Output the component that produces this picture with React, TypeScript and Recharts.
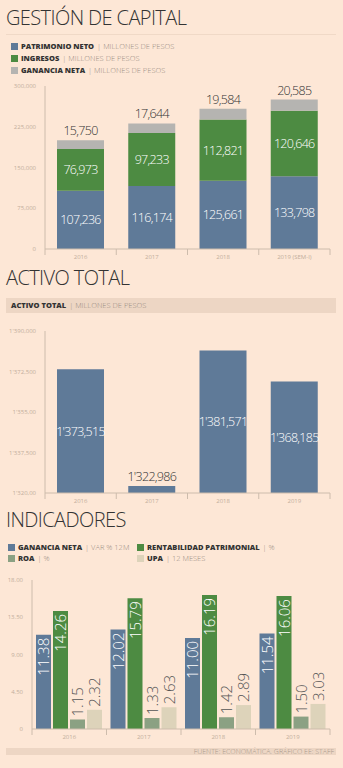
import React from 'react';
import { BarChart, Bar, XAxis, YAxis, LabelList } from 'recharts';

const years1 = ['2016', '2017', '2018', '2019 (SEM-I)'];
const patrimonio = [107236, 116174, 125661, 133798];
const ingresos = [76973, 97233, 112821, 120646];
const ganancia = [15750, 17644, 19584, 20585];
const ticks1 = [0, 75000, 150000, 225000, 300000];
const tickLabels1 = ['0', '75,000', '150,000', '225,000', '300,000'];

const years2 = ['2016', '2017', '2018', '2019'];
const activo = [1373515, 1322986, 1381571, 1368185];
const activoLabels = ["1'373,515", "1'322,986", "1'381,571", "1'368,185"];
const ticks2 = [1320000, 1337500, 1355000, 1372500, 1390000];
const tickLabels2 = ["1'320,00", "1'337,500", "1'355,00", "1'372,500", "1'390,000"];

const years3 = ['2016', '2017', '2018', '2019'];
const ganVar = [11.38, 12.02, 11.0, 11.54];
const rentab = [14.26, 15.79, 16.19, 16.06];
const roa = [1.15, 1.33, 1.42, 1.5];
const upa = [2.32, 2.63, 2.89, 3.03];
const ticks3 = [0, 4.5, 9, 13.5, 18];
const tickLabels3 = ['0', '4.50', '9.00', '13.50', '18.00'];

const BG = '#fde7d6';
const BLUE = '#5f7a98';
const GREEN = '#4d8b42';
const GRAY = '#b5b4b1';
const ROA = '#8ba183';
const UPA = '#ddd3ba';
const AXIS = '#cdbcac';
const TICK = '#c2ae9c';
const BAND = '#edd6c4';
const NUMFONT = "'Open Sans', sans-serif";

const data1 = years1.map((y, i) => ({ year: y, p: patrimonio[i], ing: ingresos[i], g: ganancia[i] }));
const data2 = years2.map((y, i) => ({ year: y, v: activo[i], label: activoLabels[i] }));
const data3 = years3.map((y, i) => ({ year: y, a: ganVar[i], b: rentab[i], c: roa[i], d: upa[i] }));

const fmt = (v: number) => v.toLocaleString('en-US');

const makeXTick = (half: number, count: number) => (props: any) => {
  const { x, y, payload, index } = props;
  return (
    <g>
      <line x1={x - half} x2={x - half} y1={y} y2={y + 6} stroke={AXIS} strokeWidth={1} />
      {index === count - 1 && (
        <line x1={x + half} x2={x + half} y1={y} y2={y + 6} stroke={AXIS} strokeWidth={1} />
      )}
      <text x={x} y={y + 10} textAnchor="middle" fontSize={6} fill={TICK} fontFamily={NUMFONT}>
        {payload.value}
      </text>
    </g>
  );
};

const ActivoLabel = (props: any) => {
  const { x, y, width, height, index } = props;
  const text = activoLabels[index];
  if (height < 25) {
    return (
      <text x={x + width / 2} y={y - 5} textAnchor="middle" fontSize={12.5} fill="#333" fontFamily={NUMFONT} fontWeight={300} letterSpacing={-0.7}>
        {text}
      </text>
    );
  }
  return (
    <text x={x + width / 2} y={y + height / 2} textAnchor="middle" dominantBaseline="central" fontSize={12.5} fill="#fff" fontFamily={NUMFONT} fontWeight={300} letterSpacing={-0.7}>
      {text}
    </text>
  );
};

const InsideRot = (props: any) => {
  const { x, y, width, value } = props;
  const cx = x + width / 2;
  const ty = y + 3;
  return (
    <text x={cx} y={ty} transform={`rotate(-90 ${cx} ${ty})`} textAnchor="end" dominantBaseline="central" fontSize={15} fill="#fff" fontFamily={NUMFONT} fontWeight={300}>
      {value.toFixed(2)}
    </text>
  );
};

const AboveRot = (props: any) => {
  const { x, y, width, value } = props;
  const cx = x + width / 2;
  const ty = y - 3;
  return (
    <text x={cx} y={ty} transform={`rotate(-90 ${cx} ${ty})`} textAnchor="start" dominantBaseline="central" fontSize={15} fill="#555" fontFamily={NUMFONT} fontWeight={300}>
      {value.toFixed(2)}
    </text>
  );
};

const Title = ({ top, children }: any) => (
  <div style={{ position: 'absolute', left: 6, top, fontFamily: NUMFONT, fontWeight: 300, fontSize: 20, color: '#333', lineHeight: '24px', whiteSpace: 'nowrap', letterSpacing: -0.6 }}>
    {children}
  </div>
);

const LegendItem = ({ left, top, color, bold, light }: any) => (
  <div style={{ position: 'absolute', left, top, display: 'flex', alignItems: 'center', whiteSpace: 'nowrap', fontFamily: NUMFONT, fontSize: 7.5, lineHeight: '9px' }}>
    <span style={{ display: 'inline-block', width: 7, height: 7, background: color, marginRight: 3 }} />
    <span style={{ fontWeight: 800, color: '#333' }}>{bold}</span>
    <span style={{ color: '#998c82', fontWeight: 300, marginLeft: 3 }}>| {light}</span>
  </div>
);

export default function App() {
  return (
    <div style={{ position: 'absolute', left: 0, top: 0, width: 343, height: 768, background: BG, overflow: 'hidden' }}>
      <Title top={6}>GESTIÓN DE CAPITAL</Title>
      <div style={{ position: 'absolute', left: 6, top: 34, width: 330, height: 1, background: '#f0d9c7' }} />
      <LegendItem left={11} top={42} color={BLUE} bold="PATRIMONIO NETO" light="MILLONES DE PESOS" />
      <LegendItem left={11} top={54} color={GREEN} bold="INGRESOS" light="MILLONES DE PESOS" />
      <LegendItem left={11} top={66} color={GRAY} bold="GANANCIA NETA" light="MILLONES DE PESOS" />

      <div style={{ position: 'absolute', left: 0, top: 80 }}>
        <BarChart width={343} height={190} data={data1} margin={{ top: 6, right: 13, left: 0, bottom: 0 }} barSize={47}>
          <XAxis dataKey="year" height={21} axisLine={{ stroke: AXIS }} tickLine={false} tickSize={0} tickMargin={0} interval={0} tick={makeXTick(285 / 8, 4)} />
          <YAxis width={45} domain={[0, 300000]} ticks={ticks1} axisLine={{ stroke: AXIS }} tickLine={false} tickSize={0} tickMargin={9} tickFormatter={(v: number) => tickLabels1[ticks1.indexOf(v)]} tick={{ fontSize: 6, fill: TICK, fontFamily: NUMFONT }} />
          <Bar dataKey="p" stackId="s" fill={BLUE} isAnimationActive={false}>
            <LabelList dataKey="p" position="center" formatter={fmt} fill="#fff" fontSize={12.5} fontFamily={NUMFONT} fontWeight={300} letterSpacing={-0.7} />
          </Bar>
          <Bar dataKey="ing" stackId="s" fill={GREEN} isAnimationActive={false}>
            <LabelList dataKey="ing" position="center" formatter={fmt} fill="#fff" fontSize={12.5} fontFamily={NUMFONT} fontWeight={300} letterSpacing={-0.7} />
          </Bar>
          <Bar dataKey="g" stackId="s" fill={GRAY} isAnimationActive={false}>
            <LabelList dataKey="g" position="top" offset={5} formatter={fmt} fill="#333" fontSize={12.5} fontFamily={NUMFONT} fontWeight={300} letterSpacing={-0.7} />
          </Bar>
        </BarChart>
      </div>

      <Title top={266}>ACTIVO TOTAL</Title>
      <div style={{ position: 'absolute', left: 6, top: 298, width: 330, height: 15, background: BAND }} />
      <div style={{ position: 'absolute', left: 11, top: 301, whiteSpace: 'nowrap', fontFamily: NUMFONT, fontSize: 7.5, lineHeight: '9px' }}>
        <span style={{ fontWeight: 800, color: '#333' }}>ACTIVO TOTAL</span>
        <span style={{ color: '#998c82', fontWeight: 300, marginLeft: 3 }}>| MILLONES DE PESOS</span>
      </div>

      <div style={{ position: 'absolute', left: 0, top: 325 }}>
        <BarChart width={343} height={189} data={data2} margin={{ top: 6, right: 13, left: 0, bottom: 0 }} barSize={47}>
          <XAxis dataKey="year" height={21} axisLine={{ stroke: AXIS }} tickLine={false} tickSize={0} tickMargin={0} interval={0} tick={makeXTick(285 / 8, 4)} />
          <YAxis width={45} domain={[1320000, 1390000]} allowDataOverflow ticks={ticks2} axisLine={{ stroke: AXIS }} tickLine={false} tickSize={0} tickMargin={9} tickFormatter={(v: number) => tickLabels2[ticks2.indexOf(v)]} tick={{ fontSize: 6, fill: TICK, fontFamily: NUMFONT }} />
          <Bar dataKey="v" fill={BLUE} isAnimationActive={false}>
            <LabelList dataKey="v" content={ActivoLabel} />
          </Bar>
        </BarChart>
      </div>

      <Title top={508}>INDICADORES</Title>
      <LegendItem left={8} top={543} color={BLUE} bold="GANANCIA NETA" light="VAR % 12M" />
      <LegendItem left={8} top={554} color={ROA} bold="ROA" light="%" />
      <LegendItem left={137} top={543} color={GREEN} bold="RENTABILIDAD PATRIMONIAL" light="%" />
      <LegendItem left={137} top={554} color={UPA} bold="UPA" light="12 MESES" />

      <div style={{ position: 'absolute', left: 0, top: 574 }}>
        <BarChart width={343} height={171} data={data3} margin={{ top: 6, right: 13, left: 0, bottom: 0 }} barSize={15} barGap={2}>
          <XAxis dataKey="year" height={16} axisLine={{ stroke: AXIS }} tickLine={false} tickSize={0} tickMargin={0} interval={0} tick={makeXTick(298 / 8, 4)} />
          <YAxis width={32} domain={[0, 18]} ticks={ticks3} axisLine={{ stroke: AXIS }} tickLine={false} tickSize={0} tickMargin={9} tickFormatter={(v: number) => tickLabels3[ticks3.indexOf(v)]} tick={{ fontSize: 6, fill: TICK, fontFamily: NUMFONT }} />
          <Bar dataKey="a" fill={BLUE} isAnimationActive={false}>
            <LabelList dataKey="a" content={InsideRot} />
          </Bar>
          <Bar dataKey="b" fill={GREEN} isAnimationActive={false}>
            <LabelList dataKey="b" content={InsideRot} />
          </Bar>
          <Bar dataKey="c" fill={ROA} isAnimationActive={false}>
            <LabelList dataKey="c" content={AboveRot} />
          </Bar>
          <Bar dataKey="d" fill={UPA} isAnimationActive={false}>
            <LabelList dataKey="d" content={AboveRot} />
          </Bar>
        </BarChart>
      </div>

      <div style={{ position: 'absolute', left: 6, top: 748, width: 330, height: 7, background: BAND }} />
      <div style={{ position: 'absolute', right: 9, top: 747, whiteSpace: 'nowrap', fontFamily: NUMFONT, fontSize: 7, lineHeight: '9px', color: '#a8978a', fontWeight: 300 }}>
        FUENTE: ECONOMÁTICA. GRÁFICO EE: STAFF
      </div>
    </div>
  );
}
